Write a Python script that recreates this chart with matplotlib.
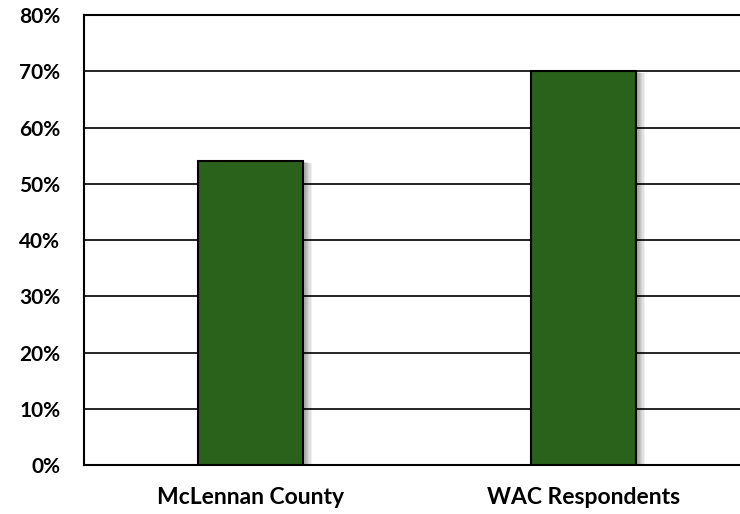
import numpy as np
import matplotlib.pyplot as plt

categories = ['McLennan County', 'WAC Respondents']
values = [54, 70]
yticks = [0, 10, 20, 30, 40, 50, 60, 70, 80]

plt.rcParams['font.family'] = ['Lato', 'DejaVu Sans']
plt.rcParams['font.weight'] = 'bold'

fig = plt.figure(figsize=(7.4, 5.14), dpi=100)
ax = fig.add_axes([0.1135, 0.0953, 0.8865, 0.8755])

x = np.arange(len(categories))
width = 0.315

# soft shadow behind bars
for i in range(7):
    off = 0.003 + i * 0.0025
    ax.bar(x + off * 1.5, values, width, bottom=-off * 20,
           color='black', alpha=0.06, zorder=2, linewidth=0)
ax.bar(x, values, width, color='#2a621b', edgecolor='black',
       linewidth=1.5, zorder=3)

ax.set_xlim(-0.5, 1.47)
ax.set_ylim(0, 80)
ax.set_yticks(yticks)
ax.set_yticklabels([f'{v}%' for v in yticks], fontsize=15, fontweight='bold')
ax.set_xticks(x)
ax.set_xticklabels(categories, fontsize=16.5, fontweight='bold')
ax.tick_params(length=0)
ax.tick_params(axis='y', pad=17)
ax.tick_params(axis='x', pad=16)
ax.yaxis.grid(True, color='black', linewidth=1.2, zorder=1)
ax.set_axisbelow(True)
for s in ['left', 'top', 'bottom']:
    ax.spines[s].set_linewidth(1.5)
ax.spines['right'].set_visible(False)

fig.savefig('out.png', dpi=100)
